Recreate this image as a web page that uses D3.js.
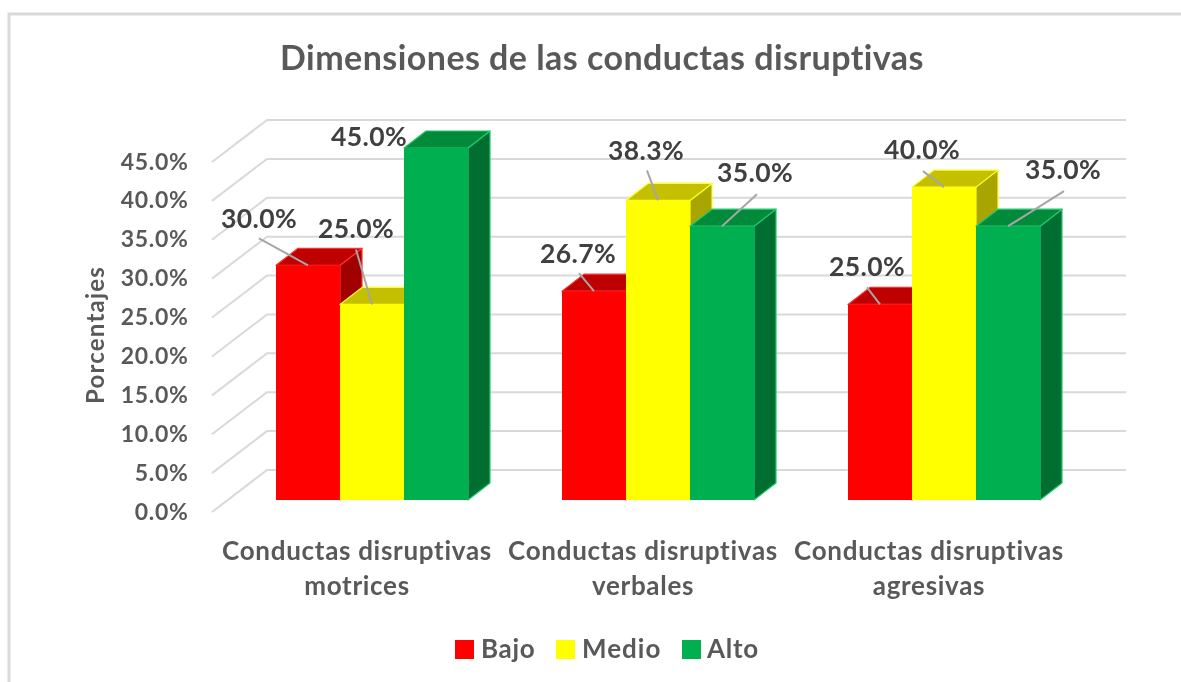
<!DOCTYPE html>
<html><head><meta charset="utf-8">
<script src="https://cdn.jsdelivr.net/npm/d3@7"></script>
<style>html,body{margin:0;padding:0;background:#fff}svg{display:block;filter:blur(0.35px)}text{font-family:Lato,"Open Sans",sans-serif;font-weight:700}</style>
</head><body><svg id="c" width="1181" height="682"></svg>
<script>
const titleText = "Dimensiones de las conductas disruptivas";
const yAxisTitle = "Porcentajes";
const categories = ["Conductas disruptivas motrices","Conductas disruptivas verbales","Conductas disruptivas agresivas"];
const categoryLines = [["Conductas disruptivas","motrices"],["Conductas disruptivas","verbales"],["Conductas disruptivas","agresivas"]];
const seriesNames = ["Bajo","Medio","Alto"];
const bajo = [30.0,26.7,25.0];
const medio = [25.0,38.3,40.0];
const alto = [45.0,35.0,35.0];
const seriesValues = [bajo,medio,alto];
const ticks = [0,5,10,15,20,25,30,35,40,45];
const faceColors = ["#ff0000","#ffff00","#00b050"];
const topColors = ["#bf0000","#c4c000","#008a3a"];
const sideColors = ["#a00000","#a8a400","#006e30"];
const edgeColors = ["#ff3030","#ffff20","#20c870"];
// label placement relative to the top-front centre of each bar: [series][category] = [labelDx,labelDy,leadDx,leadDy]
const labelOffsets = [
  [[-49,-47,-49,-27],[-16,-37,-15,-18],[-13,-38,-13,-17]],
  [[-16,-76,-16,-55],[-12,-50,-11,-30],[-22,-37,-21,-16]],
  [[-67,-11,null,null],[33,-53,35,-32],[55,-56,56,-35]]
];
const svg = d3.select("#c");
const W=1181;
const fmt = d => d.toFixed(1)+"%";
const yBar = d3.scaleLinear().domain([0,45]).range([500,148]);
const yBack = d3.scaleLinear().domain([0,45]).range([470,120]);
const yFront = d3.scaleLinear().domain([0,45]).range([512,162]);
const x0 = d3.scaleBand().domain(categories).range([229,1087]).paddingInner(94/286).paddingOuter(47/286);
const x1 = d3.scaleBand().domain(seriesNames).range([0,x0.bandwidth()]);
const depthX=22, depthY=-17, frontL=212, backL=267, backR=1126, catShift=-15;

svg.append("path").attr("d",`M9,682V14H${W}`).attr("fill","none").attr("stroke","#d9d9d9").attr("stroke-width",3);
svg.append("text").attr("x",602).attr("y",70).attr("text-anchor","middle").attr("font-size",34).attr("letter-spacing",0.45).attr("fill","#595959").text(titleText);

const grid = svg.append("g").attr("fill","none").attr("stroke","#d9d9d9").attr("stroke-width",2);
grid.selectAll("path").data(ticks).join("path").attr("d",t=>`M${frontL},${yFront(t)}L${backL},${yBack(t)}H${backR}`);

const yg = svg.append("g").attr("font-size",23).attr("letter-spacing",0.7).attr("fill","#595959").attr("text-anchor","end");
yg.selectAll("text").data(ticks).join("text").attr("x",188.5).attr("y",t=>yFront(t)-0.5).attr("dy","0.35em").text(t=>fmt(t));
svg.append("text").attr("transform","translate(96,335) rotate(-90)").attr("text-anchor","middle").attr("dy","0.35em").attr("font-size",24).attr("letter-spacing",1.2).attr("fill","#595959").text(yAxisTitle);

categories.forEach((cat,ci)=>{
  const g = svg.append("g");
  seriesNames.forEach((s,si)=>{
    const v=seriesValues[si][ci], l=x0(cat)+x1(s), r=l+x1.bandwidth(), t=yBar(v), b=yBar(0);
    const st=`stroke-width:1.2;stroke-linejoin:round;stroke:${edgeColors[si]}`;
    g.append("path").attr("d",`M${r},${t}L${r+depthX},${t+depthY}V${b+depthY}L${r},${b}Z`).attr("fill",sideColors[si]).attr("style",st);
    g.append("path").attr("d",`M${l},${t}L${l+depthX},${t+depthY}H${r+depthX}L${r},${t}Z`).attr("fill",topColors[si]).attr("style",st);
    g.append("rect").attr("x",l).attr("y",t).attr("width",r-l).attr("height",b-t).attr("fill",faceColors[si]);
  });
});
categories.forEach((cat,ci)=>{
  seriesNames.forEach((s,si)=>{
    const v=seriesValues[si][ci], cx=x0(cat)+x1(s)+x1.bandwidth()/2, t=yBar(v), o=labelOffsets[si][ci];
    if(o[2]!==null) svg.append("line").attr("x1",cx+o[2]).attr("y1",t+o[3]).attr("x2",cx).attr("y2",t).attr("stroke","#a6a6a6").attr("stroke-width",2);
    svg.append("text").attr("x",cx+o[0]).attr("y",t+o[1]).attr("dy","0.35em").attr("text-anchor","middle").attr("font-size",26.5).attr("letter-spacing",0.4).attr("fill","#404040").text(fmt(v));
  });
  const tx=x0(cat)+x0.bandwidth()/2+catShift;
  categoryLines[ci].forEach((ln,i)=>{
    svg.append("text").attr("x",tx).attr("y",551+i*35).attr("dy","0.35em").attr("text-anchor","middle").attr("font-size",26).attr("letter-spacing",0.7).attr("fill","#595959").text(ln);
  });
});
const legendX = d3.scaleOrdinal().domain(seriesNames).range([455,556,682]);
const legend = svg.append("g");
seriesNames.forEach((s,i)=>{
  legend.append("rect").attr("x",legendX(s)).attr("y",640).attr("width",19).attr("height",19).attr("fill",faceColors[i]);
  legend.append("text").attr("x",legendX(s)+(i===2?25:26)).attr("y",649).attr("dy","0.35em").attr("font-size",26).attr("letter-spacing",i===1?1:0.7).attr("fill","#595959").text(s);
});
</script></body></html>
